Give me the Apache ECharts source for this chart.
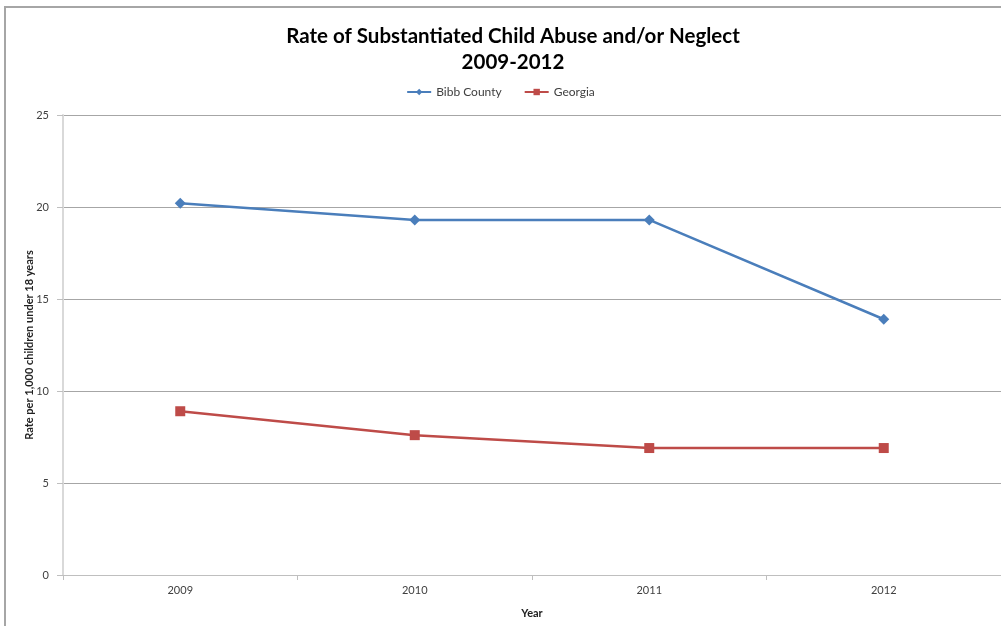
<!DOCTYPE html>
<html>
<head>
<meta charset="utf-8">
<script src="https://cdn.jsdelivr.net/npm/echarts@6/dist/echarts.min.js"></script>
<style>
  html, body { margin: 0; padding: 0; background: #fff; }
  #chart { width: 1001px; height: 626px; }
</style>
</head>
<body>
<div id="chart"></div>
<script>
const years = ['2009', '2010', '2011', '2012']
const bibbCounty = [20.2, 19.3, 19.3, 13.9]
const georgia = [8.9, 7.6, 6.9, 6.9]
const yTicks = [0, 5, 10, 15, 20, 25]

const chart = echarts.init(document.getElementById('chart'))
chart.setOption({
  animation: false,
  textStyle: { fontFamily: 'Lato, "Open Sans", sans-serif' },
  graphic: [
    // outer chart frame (only left and top edges visible)
    {
      type: 'rect',
      shape: { x: 5, y: 7, width: 1100, height: 700 },
      style: { fill: 'none', stroke: '#a6a6a6', lineWidth: 2 },
      silent: true
    }
  ],
  title: {
    text: 'Rate of Substantiated Child Abuse and/or Neglect\n2009-2012',
    left: 508,
    top: 18,
    textAlign: 'center',
    textStyle: {
      fontFamily: 'Lato, sans-serif',
      fontWeight: 'bold',
      fontSize: 20.5,
      lineHeight: 26,
      color: '#000'
    }
  },
  legend: {
    top: 81,
    left: 'center',
    itemWidth: 24,
    itemHeight: 8,
    itemGap: 22,
    textStyle: { fontSize: 12, color: '#404040' },
    data: ['Bibb County', 'Georgia']
  },
  grid: {
    left: 63,
    right: 0,
    top: 115,
    bottom: 51
  },
  xAxis: {
    type: 'category',
    data: years,
    boundaryGap: true,
    name: 'Year',
    nameLocation: 'middle',
    nameGap: 33,
    nameMoveOverlap: false,
    nameTextStyle: { fontWeight: 'bold', fontSize: 11, color: '#222' },
    axisLine: { lineStyle: { color: '#bfbfbf', width: 1 } },
    axisTick: { show: true, alignWithLabel: false, length: 5, lineStyle: { color: '#bfbfbf' } },
    axisLabel: { fontSize: 11, color: '#404040', margin: 10 },
    splitLine: { show: false }
  },
  yAxis: {
    type: 'value',
    min: yTicks[0],
    max: yTicks[yTicks.length - 1],
    interval: 5,
    name: 'Rate per 1,000 children under 18 years',
    nameLocation: 'middle',
    nameGap: 28,
    nameMoveOverlap: false,
    nameTextStyle: { fontWeight: 'bold', fontSize: 11, color: '#222' },
    axisLine: { show: true, lineStyle: { color: '#d9d9d9', width: 2 } },
    axisTick: { show: true, inside: false, length: 6, lineStyle: { color: '#bfbfbf' } },
    axisLabel: { fontSize: 11, color: '#404040', margin: 14 },
    splitLine: { show: true, lineStyle: { color: '#a6a6a6', width: 1 } }
  },
  series: [
    {
      name: 'Bibb County',
      type: 'line',
      data: bibbCounty,
      symbol: 'diamond',
      symbolSize: 11,
      lineStyle: { color: '#4a7ebb', width: 2.5 },
      itemStyle: { color: '#4a7ebb' }
    },
    {
      name: 'Georgia',
      type: 'line',
      data: georgia,
      symbol: 'rect',
      symbolSize: 10,
      lineStyle: { color: '#be4b48', width: 2.5 },
      itemStyle: { color: '#be4b48' }
    }
  ]
})
</script>
</body>
</html>
